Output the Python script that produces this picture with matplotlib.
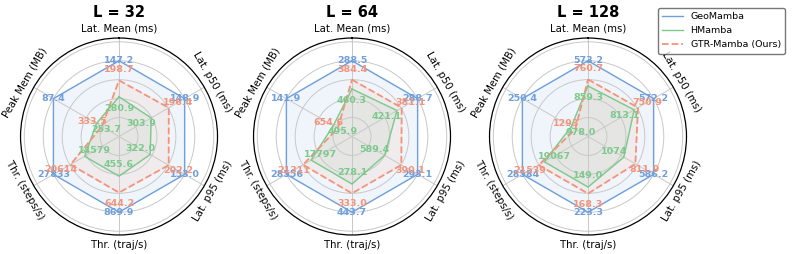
# Radar charts of latency / throughput / memory for three sequence lengths

import numpy as np
import matplotlib
matplotlib.use('Agg')
import matplotlib.pyplot as plt

# axes, clockwise from the top
metrics = ['Lat. Mean (ms)', 'Lat. p50 (ms)', 'Lat. p95 (ms)',
           'Thr. (traj/s)', 'Thr. (steps/s)', 'Peak Mem (MB)']
# True where higher is better
higher_better = [False, False, False, True, True, False]

lengths = [32, 64, 128]
methods = ['GeoMamba', 'HMamba', 'GTR-Mamba (Ours)']

geomamba_32 = [147.2, 148.9, 153.0, 869.9, 27833, 87.4]
hmamba_32 = [280.9, 303.9, 322.0, 455.6, 14579, 253.7]
gtr_32 = [198.7, 196.4, 202.2, 644.2, 20614, 333.5]

geomamba_64 = [288.5, 288.7, 293.1, 443.7, 28556, 141.9]
hmamba_64 = [460.3, 421.1, 589.4, 278.1, 17797, 495.9]
gtr_64 = [384.4, 381.1, 390.1, 333.0, 21311, 654.6]

geomamba_128 = [573.2, 572.2, 586.2, 223.3, 28584, 250.4]
hmamba_128 = [859.3, 813.1, 1074, 149.0, 19067, 978.0]
gtr_128 = [760.7, 750.9, 811.9, 168.3, 21539, 1293]

data = {32: [geomamba_32, hmamba_32, gtr_32],
        64: [geomamba_64, hmamba_64, gtr_64],
        128: [geomamba_128, hmamba_128, gtr_128]}

colors = ['#6f9fdc', '#7cc98c', '#f4937a']
styles = ['-', '-', '--']
# radial shift of the value labels, per method
label_shift = [0.0, -0.15, 0.14]


def fmt(v):
    if v >= 1000:
        return '%d' % round(v)
    return '%.1f' % v


def plot_radar(ax, L):
    '''
    One radar panel, values scaled relative to GeoMamba
    '''
    n = len(metrics)
    angles = np.arange(n) * 2 * np.pi / n
    base = data[L][0]

    ax.set_theta_offset(np.pi / 2)
    ax.set_theta_direction(-1)
    ax.set_ylim(0, 1.3)
    ax.set_yticks([0.25, 0.5, 0.75, 1.0, 1.25])
    ax.set_yticklabels([])
    ax.set_xticks(angles)
    ax.set_xticklabels([])
    ax.grid(color='#c8c8c8', linewidth=0.7)
    ax.spines['polar'].set_color('black')
    ax.spines['polar'].set_linewidth(0.9)

    for vals, col, ls, shift, name in zip(data[L], colors, styles,
                                          label_shift, methods):
        r = []
        for v, b, hb in zip(vals, base, higher_better):
            r.append(v / b if hb else b / v)
        r = np.array(r)
        th = np.append(angles, angles[0])
        rr = np.append(r, r[0])
        ax.plot(th, rr, color=col, linestyle=ls,
                linewidth=1.3 if ls == '--' else 1.0, label=name)
        ax.fill(th, rr, color=col, alpha=0.1)
        for a, rv, v in zip(angles, r, vals):
            ax.text(a, rv + shift, fmt(v), color=col, fontsize=6.8,
                    fontweight='bold', ha='center', va='center')

    # metric names, rotated along the circle
    for a, name in zip(angles, metrics):
        deg = 90 - np.degrees(a)
        rot = deg - 90
        while rot <= -90:
            rot += 180
        while rot > 90:
            rot -= 180
        ax.text(a, 1.43, name, fontsize=7.3, ha='center', va='center',
                rotation=rot, rotation_mode='anchor', fontweight='medium')

    ax.set_title('L = %d' % L, fontsize=10.5, fontweight='bold', pad=15)


if __name__ == '__main__':
    fig = plt.figure(figsize=(7.93, 2.54), dpi=100)
    lefts = [0.0259, 0.3197, 0.6173]
    for left, L in zip(lefts, lengths):
        ax = fig.add_axes([left, 0.0748, 0.2484, 0.7756], projection='polar')
        plot_radar(ax, L)

    handles, labels = ax.get_legend_handles_labels()
    fig.legend(handles, labels, loc='upper right', bbox_to_anchor=(0.996, 0.988),
               fontsize=6.8, frameon=True, edgecolor='#555555',
               handlelength=2.2, borderpad=0.45, labelspacing=0.55)

    fig.savefig('out.png', dpi=100)
